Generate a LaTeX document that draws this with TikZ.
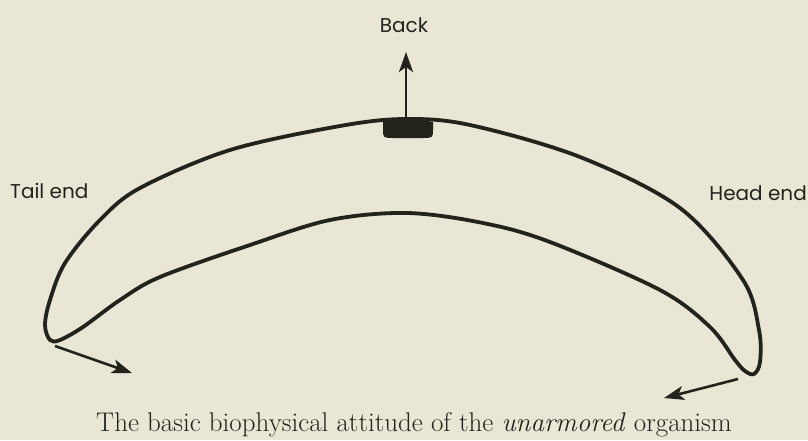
\documentclass[tikz,border=0pt]{standalone}
\usepackage{fontspec}
\newfontfamily\labelfont{Poppins}
\usetikzlibrary{arrows.meta}
\definecolor{paper}{RGB}{233,230,214}
\definecolor{ink}{RGB}{34,36,28}
\tikzset{
    body/.style={draw=ink, line width=3.8pt, line join=round},
    pointer/.style={draw=ink, line width=2.6pt, -{Stealth[length=20pt,width=14pt,inset=5pt]}},
    tag/.style={font=\labelfont\fontsize{20}{24}\selectfont, text=ink, inner sep=0pt}
}
\begin{document}
\begin{tikzpicture}[x=1pt, y=-1pt]
    \fill[paper] (0,0) rectangle (808,440);
    \useasboundingbox (0,0) rectangle (808,440);
    % the organism
    \draw[body] plot[smooth cycle, tension=0.55] coordinates {
        (50,340) (45,325) (50,300) (65,263) (100,220) (140,188) (230,150)
        (340,126) (405,119) (470,125) (580,157) (680,208) (743,280)
        (759,330) (760,362) (754,374) (745,371) (735,360) (710,327)
        (660,290) (550,242) (483,223) (407,213) (330,220) (250,245)
        (160,277) (120,300) (83,327) (60,340)};
    \fill[ink] (383,122) -- (383,129) .. controls (383,138) .. (394,138)
        -- (422,138) .. controls (433,138) .. (433,129) -- (433,122)
        .. controls (408,117) .. cycle;
    % labels
    \node[tag, anchor=base] (back) at (404,32) {Back};
    \node[tag, anchor=base west] (tail) at (10,198) {Tail end};
    \node[tag, anchor=base east] (head) at (807,200) {Head end};
    \node[anchor=base, inner sep=0pt, text=ink, font=\fontsize{27}{32}\selectfont] (caption) at (414,431)
        {The basic biophysical attitude of the \textit{unarmored} organism};
    % movement
    \coordinate (backfoot) at (406,117);
    \coordinate (backtip) at (406,52);
    \coordinate (tailfoot) at (55,346);
    \coordinate (tailtip) at (132,373);
    \coordinate (headfoot) at (738,379);
    \coordinate (headtip) at (664,398);
    \draw[pointer] (backfoot) -- (backtip);
    \draw[pointer] (tailfoot) -- (tailtip);
    \draw[pointer] (headfoot) -- (headtip);
\end{tikzpicture}
\end{document}
